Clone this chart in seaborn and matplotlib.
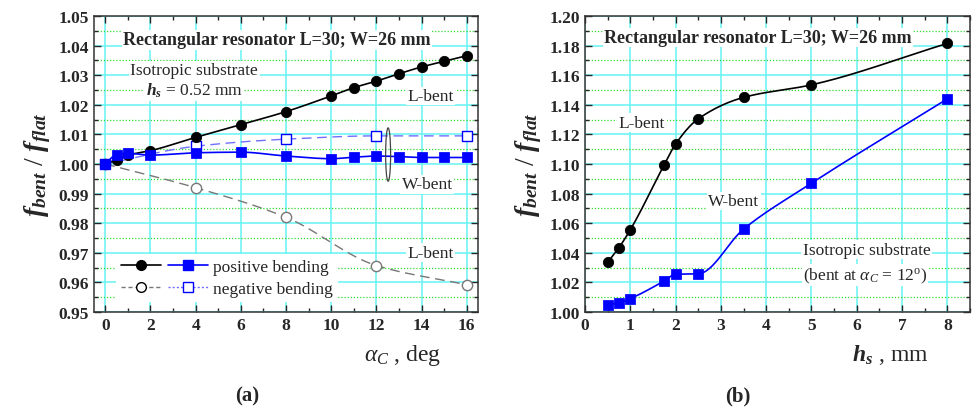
import numpy as np
import pandas as pd
import matplotlib
matplotlib.use("Agg")
import matplotlib.pyplot as plt
import seaborn as sns
from matplotlib.lines import Line2D
from matplotlib.legend_handler import HandlerTuple
from matplotlib.patches import Ellipse
from matplotlib.ticker import MultipleLocator

# ---------------- data ----------------
# panel (a): ratio vs bending angle alpha_C (deg)
alpha_pos = [0, 0.5, 1, 2, 4, 6, 8, 10, 11, 12, 13, 14, 15, 16]
L_pos = [1.000, 1.0015, 1.0030, 1.0045, 1.0090, 1.0133, 1.0177, 1.0230, 1.0258, 1.0280, 1.0305, 1.0328, 1.0347, 1.0366]
W_pos = [1.000, 1.0032, 1.0036, 1.0030, 1.0038, 1.0040, 1.0027, 1.0018, 1.0023, 1.0027, 1.0025, 1.0022, 1.0022, 1.0022]
alpha_neg = [0, 4, 8, 12, 16]
L_neg = [1.000, 0.9920, 0.9820, 0.9657, 0.9592]
W_neg = [1.000, 1.0060, 1.0084, 1.0095, 1.0095]

# panel (b): ratio vs substrate thickness h_s (mm)
hs = [0.5, 0.75, 1, 1.75, 2, 2.5, 3.5, 5, 8]
L_hs = [1.0335, 1.0435, 1.0555, 1.0995, 1.1135, 1.1305, 1.1450, 1.1535, 1.1815]
W_hs = [1.0050, 1.0060, 1.0090, 1.0210, 1.0255, 1.0258, 1.0560, 1.0870, 1.1440]

xticks_a = [0, 2, 4, 6, 8, 10, 12, 14, 16]
yticks_a = [0.95, 0.96, 0.97, 0.98, 0.99, 1.00, 1.01, 1.02, 1.03, 1.04, 1.05]
xticks_b = [0, 1, 2, 3, 4, 5, 6, 7, 8]
yticks_b = [1.00, 1.02, 1.04, 1.06, 1.08, 1.10, 1.12, 1.14, 1.16, 1.18, 1.20]


def pchip(x, y, n=300):
    """Shape-preserving smooth curve through the data points (drawing only)."""
    x = np.asarray(x, float); y = np.asarray(y, float)
    h = np.diff(x); d = np.diff(y) / h
    m = np.zeros_like(y)
    for k in range(1, len(x) - 1):
        if d[k - 1] * d[k] > 0:
            w1 = 2 * h[k] + h[k - 1]; w2 = h[k] + 2 * h[k - 1]
            m[k] = (w1 + w2) / (w1 / d[k - 1] + w2 / d[k])
    m[0] = d[0]; m[-1] = d[-1]
    xs = np.linspace(x[0], x[-1], n)
    idx = np.clip(np.searchsorted(x, xs) - 1, 0, len(x) - 2)
    t = (xs - x[idx]) / h[idx]
    h00 = 2 * t**3 - 3 * t**2 + 1; h10 = t**3 - 2 * t**2 + t
    h01 = -2 * t**3 + 3 * t**2; h11 = t**3 - t**2
    ys = h00 * y[idx] + h10 * h[idx] * m[idx] + h01 * y[idx + 1] + h11 * h[idx] * m[idx + 1]
    return xs, ys


sns.set_style("ticks")
plt.rcParams['font.family'] = ['Liberation Serif', 'DejaVu Serif']
plt.rcParams['mathtext.fontset'] = 'custom'
plt.rcParams['mathtext.rm'] = 'Liberation Serif'
plt.rcParams['mathtext.it'] = 'Liberation Serif:italic'
plt.rcParams['mathtext.bf'] = 'Liberation Serif:italic:bold'

fig = plt.figure(figsize=(9.74, 4.10), dpi=100)
axA = fig.add_axes([0.0965, 0.2366, 0.3943, 0.7219])
axB = fig.add_axes([0.6006, 0.2366, 0.3953, 0.7219])

CYAN = '#66f2f2'
GREEN = '#33dd33'
BLUE = '#0000ff'
LBLUE = '#7070ff'
GRAY = '#777777'
FS = 12.5

txtbox = dict(facecolor='white', edgecolor='none', pad=1.0)


def style_axes(ax, xticks, yticks, xmin, ymin):
    ax.set_xticks(xticks)
    ax.set_xticklabels([f"{v:g}" for v in xticks])
    ax.set_yticks(yticks)
    ax.set_yticklabels([f"{v:.2f}" for v in yticks])
    ax.xaxis.set_minor_locator(MultipleLocator(xmin))
    ax.yaxis.set_minor_locator(MultipleLocator(ymin))
    ax.grid(True, which='major', axis='both', color=CYAN, lw=1.1, zorder=0)
    ax.grid(True, which='minor', axis='y', color=GREEN, lw=0.9, ls=(0, (1, 1.5)), zorder=0)
    ax.tick_params(which='both', direction='in', top=True, right=True, labelsize=12.5)
    ax.tick_params(which='major', length=5, width=1)
    ax.tick_params(which='minor', length=3, width=1)
    for lab in ax.get_xticklabels() + ax.get_yticklabels():
        lab.set_fontweight('bold')
    for s in ax.spines.values():
        s.set_linewidth(1.1)
        s.set_color('#333333')
    ax.set_axisbelow(True)


# ---------------- panel (a) ----------------
ax = axA
xs, ys = pchip(alpha_neg, L_neg)
ax.plot(xs, ys, color=GRAY, lw=1.0, ls=(0, (7, 4)), zorder=2)
xs, ys = pchip(alpha_neg, W_neg)
ax.plot(xs, ys, color=LBLUE, lw=1.0, ls=(0, (7, 4)), zorder=2)
xs, ys = pchip(alpha_pos, L_pos)
ax.plot(xs, ys, color='black', lw=1.2, zorder=3)
xs, ys = pchip(alpha_pos, W_pos)
ax.plot(xs, ys, color=BLUE, lw=1.2, zorder=3)

sns.scatterplot(x=alpha_neg, y=L_neg, ax=ax, marker='o', s=55, facecolor='white',
                edgecolor=GRAY, linewidth=1.0, zorder=4)
sns.scatterplot(x=alpha_neg, y=W_neg, ax=ax, marker='s', s=45, facecolor='white',
                edgecolor=BLUE, linewidth=1.0, zorder=4)
sns.scatterplot(x=alpha_pos, y=L_pos, ax=ax, marker='o', s=55, color='black',
                edgecolor='black', zorder=5)
sns.scatterplot(x=alpha_pos, y=W_pos, ax=ax, marker='s', s=45, color=BLUE,
                edgecolor=BLUE, zorder=5)

ax.set_xlim(-0.5, 16.5)
ax.set_ylim(0.95, 1.05)
style_axes(ax, xticks_a, yticks_a, 1, 0.005)

ax.add_patch(Ellipse((12.52, 1.0032), 0.22, 0.018, fill=False, edgecolor='#444444', lw=0.9, zorder=6))

ax.text(7.6, 1.0419, 'Rectangular resonator L=30; W=26 mm', ha='center', va='center',
        fontsize=13, fontweight='bold', bbox=txtbox, zorder=7)
ax.text(3.94, 1.0317, 'Isotropic substrate', ha='center', va='center', fontsize=FS,
        bbox=txtbox, zorder=7)
ax.text(3.94, 1.0250, r'$\mathbf{h}_{\mathbf{s}}$ = 0.52 mm', ha='center', va='center',
        fontsize=FS, bbox=txtbox, zorder=7)
ax.text(14.38, 1.0230, 'L-bent', ha='center', va='center', fontsize=FS, bbox=txtbox, zorder=7)
ax.text(14.25, 0.9932, 'W-bent', ha='center', va='center', fontsize=FS, bbox=txtbox, zorder=7)
ax.text(14.38, 0.9700, 'L-bent', ha='center', va='center', fontsize=FS, bbox=txtbox, zorder=7)

h_pos = (Line2D([], [], color='black', lw=1.2, marker='o', ms=7, mfc='black', mec='black'),
         Line2D([], [], color=BLUE, lw=1.2, marker='s', ms=6.5, mfc=BLUE, mec=BLUE))
h_neg = (Line2D([], [], color=GRAY, lw=1.0, ls=(0, (3, 2)), marker='o', ms=7, mfc='white', mec='black'),
         Line2D([], [], color=LBLUE, lw=1.0, ls=(0, (1.5, 1.5)), marker='s', ms=6.5, mfc='white', mec=BLUE))
leg = ax.legend([h_pos, h_neg], ['positive bending', 'negative bending'],
                handler_map={tuple: HandlerTuple(ndivide=None, pad=0.4)},
                loc='lower left', bbox_to_anchor=(0.035, 0.005), handlelength=5.0,
                handletextpad=0.3, labelspacing=0.3, fontsize=12.5, frameon=True,
                fancybox=False, borderpad=0.3)
leg.get_frame().set_facecolor('white')
leg.get_frame().set_edgecolor('none')
leg.get_frame().set_alpha(1)
leg.set_zorder(8)

ax.set_ylabel(r'$\mathbf{f}_{\mathbf{bent}}\ /\ \mathbf{f}_{\mathbf{flat}}$', fontsize=20, labelpad=4)
fig.text(0.413, 0.134, r'$\alpha_C$ , deg', ha='center', va='center', fontsize=17)
fig.text(0.2536, 0.032, '(a)', ha='center', va='center', fontsize=15, fontweight='bold')

# ---------------- panel (b) ----------------
ax = axB
xs, ys = pchip(hs, L_hs)
ax.plot(xs, ys, color='black', lw=1.2, zorder=3)
xs, ys = pchip(hs, W_hs)
ax.plot(xs, ys, color=BLUE, lw=1.2, zorder=3)
sns.scatterplot(x=hs, y=L_hs, ax=ax, marker='o', s=55, color='black', edgecolor='black', zorder=5)
sns.scatterplot(x=hs, y=W_hs, ax=ax, marker='s', s=45, color=BLUE, edgecolor=BLUE, zorder=5)

ax.set_xlim(0, 8.5)
ax.set_ylim(1.0, 1.2)
style_axes(ax, xticks_b, yticks_b, 0.5, 0.01)

ax.text(3.82, 1.1855, 'Rectangular resonator L=30; W=26 mm', ha='center', va='center',
        fontsize=13, fontweight='bold', bbox=txtbox, zorder=7)
ax.text(1.26, 1.128, 'L-bent', ha='center', va='center', fontsize=FS, bbox=txtbox, zorder=7)
ax.text(3.29, 1.075, 'W-bent', ha='center', va='center', fontsize=FS, bbox=txtbox, zorder=7)
ax.text(6.22, 1.042, 'Isotropic substrate', ha='center', va='center', fontsize=FS,
        bbox=txtbox, zorder=7)
ax.text(6.18, 1.025, r'(bent at $\alpha_C$ = 12$^{\mathrm{o}}$)', ha='center', va='center',
        fontsize=FS, bbox=txtbox, zorder=7)

ax.set_ylabel(r'$\mathbf{f}_{\mathbf{bent}}\ /\ \mathbf{f}_{\mathbf{flat}}$', fontsize=20, labelpad=4)
fig.text(0.914, 0.134, r'$\mathbf{h}_{\mathbf{s}}$ , mm', ha='center', va='center', fontsize=17)
fig.text(0.758, 0.032, '(b)', ha='center', va='center', fontsize=15, fontweight='bold')

fig.savefig('out.png', dpi=100)
